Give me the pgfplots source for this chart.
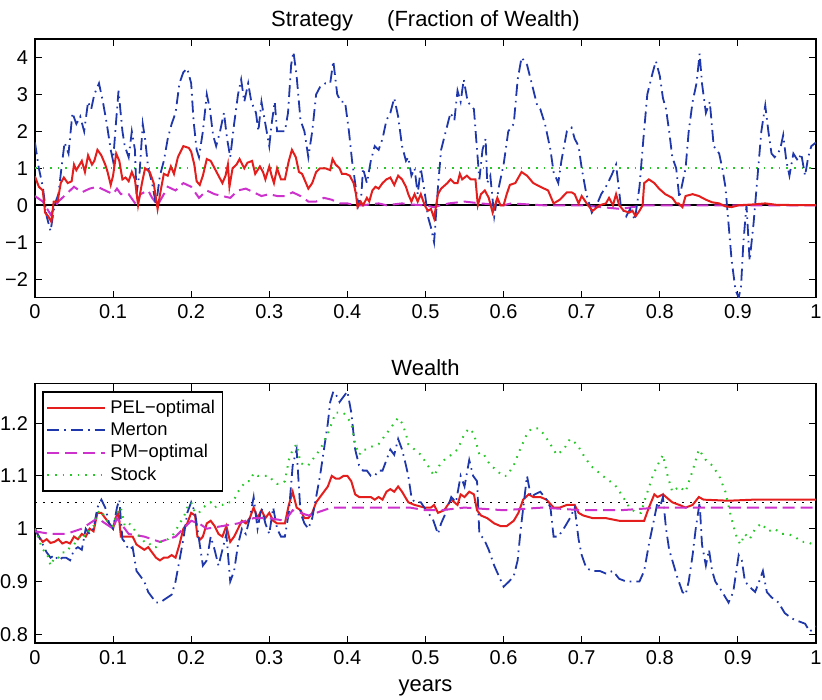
\documentclass[border=0pt]{standalone}
\usepackage{pgfplots}
\usepackage{pgfplotstable}
\pgfplotsset{compat=1.18}
\usepackage{fontspec}
\setmainfont{Liberation Sans}

\definecolor{pelred}{RGB}{228,30,28}
\definecolor{mertonblue}{RGB}{30,55,170}
\definecolor{pmmag}{RGB}{205,50,205}
\definecolor{stockgreen}{RGB}{40,200,40}

% ---------- strategy (fraction of wealth) ----------
\pgfplotstableread{
x y
0 0.78
0.005 0.5
0.01 0.4
0.013 -0.2
0.017 -0.3
0.021 -0.45
0.024 0.1
0.029 0.1
0.033 0.6
0.037 0.75
0.042 0.6
0.047 0.65
0.05 1.1
0.053 0.95
0.06 1.2
0.064 0.9
0.068 1.35
0.073 1.1
0.076 1.2
0.08 1.5
0.085 1.35
0.09 1.1
0.093 0.9
0.097 0.55
0.1 0.8
0.104 1.4
0.108 1.2
0.112 0.7
0.116 0.75
0.12 0.65
0.124 0.9
0.128 0.7
0.132 0.0
0.137 0.6
0.141 1.0
0.147 0.9
0.152 0.6
0.157 -0.1
0.161 0.4
0.165 0.85
0.17 0.8
0.174 1.05
0.178 0.85
0.183 1.3
0.19 1.6
0.197 1.55
0.2 1.45
0.204 1.1
0.207 0.65
0.211 0.55
0.215 0.8
0.22 1.25
0.225 1.2
0.23 1.0
0.235 0.8
0.24 0.6
0.244 0.8
0.247 1.1
0.249 0.5
0.253 1.0
0.258 1.1
0.262 1.25
0.268 1.0
0.272 1.15
0.278 1.2
0.282 0.85
0.288 1.05
0.292 0.9
0.295 0.7
0.3 1.05
0.303 0.8
0.306 0.6
0.31 1.0
0.315 0.7
0.32 0.7
0.325 1.2
0.329 1.5
0.334 1.3
0.338 0.9
0.342 0.85
0.347 0.6
0.35 0.45
0.355 0.6
0.36 0.9
0.365 1.0
0.372 1.0
0.378 0.95
0.381 1.25
0.385 1.1
0.39 1.0
0.393 0.85
0.398 0.85
0.403 0.8
0.408 0.6
0.411 0.3
0.413 -0.05
0.417 0.1
0.42 0.0
0.425 0.2
0.428 0.1
0.432 0.4
0.436 0.5
0.44 0.45
0.445 0.6
0.45 0.7
0.455 0.75
0.46 0.55
0.465 0.8
0.47 0.7
0.475 0.5
0.478 0.3
0.482 0.1
0.486 0.3
0.49 0.1
0.494 0.3
0.499 0.0
0.503 -0.15
0.507 -0.1
0.511 -0.35
0.516 0.3
0.52 0.45
0.528 0.6
0.532 0.7
0.537 0.6
0.541 0.6
0.544 0.85
0.547 0.7
0.553 0.8
0.558 0.7
0.564 0.7
0.567 0.0
0.571 0.3
0.576 0.4
0.581 0.2
0.586 -0.2
0.592 0.2
0.596 0.0
0.6 0.0
0.604 0.3
0.608 0.55
0.615 0.6
0.623 0.9
0.63 0.8
0.638 0.6
0.647 0.5
0.657 0.4
0.664 0.05
0.672 0.15
0.681 0.35
0.687 0.35
0.691 0.3
0.696 0.05
0.7 0.25
0.708 0.0
0.714 -0.15
0.723 0.0
0.731 0.05
0.735 0.2
0.74 0.0
0.744 0.3
0.748 0.0
0.754 -0.15
0.761 -0.2
0.765 -0.15
0.769 -0.3
0.774 -0.15
0.778 0.0
0.78 0.6
0.786 0.7
0.793 0.6
0.799 0.45
0.807 0.3
0.816 0.2
0.821 0.05
0.824 0.05
0.829 -0.05
0.833 0.25
0.842 0.3
0.85 0.25
0.859 0.15
0.867 0.08
0.876 0.05
0.884 -0.03
0.892 -0.05
0.901 0.0
0.918 0.02
0.935 0.05
0.95 0.01
1.0 0.0
}\pelstrat

\pgfplotstableread{
x y
0 1.7
0.005 1.0
0.01 0.5
0.015 -0.3
0.02 -0.7
0.025 0.0
0.03 0.3
0.035 1.2
0.038 1.7
0.043 1.4
0.048 2.5
0.053 2.2
0.058 2.4
0.063 2.0
0.068 2.8
0.072 2.6
0.076 3.0
0.082 3.3
0.087 2.8
0.092 2.2
0.097 1.5
0.1 1.2
0.104 2.3
0.107 3.1
0.112 2.0
0.115 1.6
0.12 1.3
0.124 2.0
0.128 1.5
0.13 0.3
0.134 0.9
0.138 2.2
0.141 1.8
0.145 1.0
0.15 0.6
0.155 0.0
0.16 0.8
0.165 1.2
0.17 1.8
0.175 2.2
0.18 2.5
0.185 3.3
0.19 3.6
0.195 3.7
0.2 3.3
0.203 2.3
0.207 1.5
0.21 1.3
0.215 2.0
0.22 3.0
0.224 2.6
0.228 1.9
0.232 1.6
0.237 2.0
0.242 2.5
0.246 1.8
0.25 1.3
0.255 2.2
0.26 3.0
0.264 3.4
0.268 2.8
0.273 3.3
0.277 2.8
0.283 2.5
0.286 2.0
0.29 2.8
0.295 2.2
0.3 1.6
0.303 2.2
0.307 2.8
0.31 2.0
0.315 2.0
0.32 2.0
0.324 2.5
0.328 3.8
0.331 4.15
0.335 3.5
0.34 2.3
0.345 2.0
0.35 1.3
0.355 2.0
0.36 3.0
0.365 3.2
0.372 3.3
0.378 3.3
0.382 3.9
0.387 3.0
0.392 2.8
0.397 2.8
0.402 2.0
0.406 1.2
0.41 0.6
0.414 0.0
0.418 0.3
0.42 1.0
0.425 0.6
0.43 1.2
0.435 1.6
0.44 1.5
0.445 1.8
0.45 2.3
0.455 2.5
0.46 2.9
0.465 2.4
0.47 1.6
0.475 1.2
0.478 1.3
0.482 0.8
0.486 1.0
0.49 0.3
0.494 1.0
0.5 0.2
0.503 -0.3
0.507 -0.6
0.511 -1.0
0.516 0.5
0.52 1.5
0.526 2.0
0.532 2.5
0.537 2.3
0.541 3.1
0.545 2.8
0.549 3.4
0.554 2.8
0.558 2.7
0.562 2.6
0.566 1.5
0.569 0.7
0.573 1.5
0.577 1.8
0.579 0.6
0.583 0.8
0.588 -0.3
0.594 0.5
0.6 1.1
0.606 2.0
0.613 2.2
0.618 3.4
0.623 4.0
0.63 3.8
0.636 3.3
0.643 2.7
0.647 2.6
0.653 2.2
0.66 1.5
0.664 0.9
0.67 0.6
0.674 1.2
0.681 2.0
0.687 2.1
0.691 1.8
0.696 1.6
0.7 1.0
0.706 0.3
0.713 -0.2
0.719 0.0
0.725 0.3
0.731 0.5
0.738 0.8
0.744 1.1
0.75 0.0
0.757 -0.3
0.762 -0.1
0.768 -0.4
0.774 0.5
0.779 1.8
0.784 3.0
0.791 3.6
0.795 3.9
0.8 3.5
0.804 2.9
0.808 2.6
0.812 2.0
0.816 1.3
0.821 1.0
0.825 0.2
0.829 0.6
0.833 1.0
0.837 2.0
0.842 2.8
0.847 3.3
0.851 4.1
0.854 3.3
0.859 2.5
0.864 2.8
0.869 1.6
0.876 1.4
0.88 1.0
0.884 0.5
0.888 -0.5
0.892 -1.5
0.897 -2.3
0.901 -2.5
0.904 -2.2
0.907 -1.0
0.911 0.0
0.915 -1.5
0.92 -0.5
0.926 1.0
0.93 2.0
0.935 2.7
0.939 2.0
0.943 1.4
0.947 1.3
0.954 1.5
0.958 1.9
0.962 1.2
0.966 0.8
0.971 1.4
0.977 1.2
0.981 1.4
0.986 0.8
0.99 1.3
0.994 1.6
1.0 1.7
}\mertonstrat

\pgfplotstableread{
x y
0 0.25
0.01 0.1
0.02 -0.25
0.03 0.1
0.045 0.4
0.05 0.5
0.06 0.35
0.07 0.45
0.08 0.5
0.09 0.4
0.1 0.3
0.105 0.45
0.11 0.3
0.12 0.3
0.13 0.0
0.135 0.3
0.145 0.4
0.15 0.2
0.157 0.0
0.165 0.3
0.17 0.5
0.18 0.4
0.19 0.6
0.2 0.5
0.21 0.2
0.22 0.4
0.23 0.3
0.24 0.25
0.25 0.2
0.26 0.4
0.27 0.45
0.28 0.35
0.29 0.25
0.3 0.3
0.31 0.25
0.32 0.25
0.33 0.35
0.34 0.25
0.35 0.1
0.36 0.1
0.37 0.2
0.38 0.15
0.39 0.05
0.4 0.05
0.41 0.0
0.42 0.0
0.44 0.05
0.45 0.0
0.47 0.05
0.48 0.02
0.5 0.0
0.51 -0.05
0.52 0.0
0.53 0.05
0.55 0.1
0.57 0.05
0.6 0.0
0.61 0.05
0.65 0.0
0.7 0.0
0.75 -0.1
0.78 0.0
1.0 0.0
}\pmstrat

% ---------- wealth ----------
\pgfplotstableread{
x y
0 1.0
0.005 0.985
0.01 0.975
0.015 0.98
0.02 0.973
0.025 0.975
0.03 0.98
0.035 0.972
0.04 0.975
0.045 0.972
0.05 0.985
0.055 0.98
0.06 0.99
0.065 0.985
0.07 1.0
0.075 0.995
0.08 1.03
0.085 1.03
0.09 1.02
0.095 1.01
0.1 1.0
0.103 1.02
0.107 1.03
0.11 0.985
0.115 0.985
0.12 0.985
0.125 0.985
0.13 0.97
0.135 0.965
0.14 0.96
0.145 0.965
0.15 0.955
0.155 0.945
0.16 0.94
0.165 0.945
0.17 0.945
0.175 0.95
0.18 0.945
0.185 0.97
0.19 1.0
0.195 1.01
0.2 1.03
0.205 1.025
0.208 0.985
0.212 0.98
0.215 0.985
0.22 1.01
0.225 1.015
0.23 1.005
0.235 0.99
0.24 0.985
0.245 1.005
0.25 0.975
0.255 0.985
0.26 1.0
0.265 1.015
0.27 1.01
0.275 1.02
0.28 1.04
0.285 1.02
0.29 1.035
0.295 1.02
0.3 1.03
0.305 1.015
0.31 1.01
0.315 1.01
0.32 1.01
0.325 1.045
0.33 1.07
0.335 1.04
0.34 1.035
0.345 1.02
0.35 1.02
0.355 1.03
0.36 1.05
0.37 1.07
0.375 1.08
0.38 1.1
0.385 1.095
0.39 1.095
0.395 1.1
0.4 1.1
0.405 1.09
0.41 1.065
0.415 1.06
0.43 1.06
0.435 1.055
0.44 1.06
0.445 1.055
0.45 1.07
0.455 1.075
0.46 1.07
0.465 1.08
0.47 1.07
0.478 1.05
0.486 1.045
0.499 1.04
0.507 1.04
0.511 1.045
0.516 1.03
0.524 1.035
0.533 1.055
0.541 1.045
0.545 1.065
0.55 1.06
0.556 1.07
0.562 1.065
0.566 1.035
0.571 1.025
0.579 1.02
0.588 1.01
0.596 1.005
0.604 1.005
0.613 1.015
0.619 1.03
0.625 1.055
0.632 1.065
0.638 1.06
0.647 1.06
0.655 1.055
0.664 1.04
0.672 1.04
0.681 1.045
0.691 1.045
0.696 1.03
0.702 1.025
0.714 1.02
0.731 1.02
0.748 1.015
0.774 1.015
0.78 1.015
0.786 1.04
0.793 1.065
0.797 1.06
0.804 1.065
0.808 1.06
0.816 1.05
0.825 1.045
0.833 1.04
0.842 1.045
0.85 1.06
0.856 1.055
0.888 1.053
0.92 1.055
1.0 1.055
}\pelwealth

\pgfplotstableread{
x y
0 1.0
0.005 0.985
0.01 0.97
0.015 0.955
0.02 0.945
0.025 0.95
0.03 0.94
0.035 0.945
0.04 0.945
0.045 0.94
0.05 0.96
0.055 0.965
0.06 0.96
0.065 1.0
0.07 0.99
0.075 1.0
0.08 1.04
0.085 1.055
0.09 1.04
0.095 1.01
0.1 1.0
0.105 1.04
0.108 1.055
0.112 0.98
0.115 0.975
0.12 0.96
0.125 0.965
0.13 0.92
0.135 0.91
0.14 0.9
0.145 0.88
0.15 0.87
0.155 0.86
0.16 0.86
0.165 0.865
0.17 0.87
0.175 0.875
0.18 0.9
0.185 0.94
0.19 0.98
0.195 1.03
0.2 1.05
0.205 1.03
0.21 0.98
0.215 0.93
0.22 0.94
0.225 0.985
0.23 0.96
0.235 0.93
0.24 0.96
0.245 0.99
0.25 0.9
0.255 0.92
0.26 0.97
0.265 1.0
0.27 0.99
0.275 1.02
0.28 1.06
0.285 1.0
0.29 1.04
0.295 1.01
0.3 0.99
0.305 1.04
0.31 1.0
0.315 0.985
0.32 0.985
0.325 1.03
0.33 1.12
0.335 1.15
0.34 1.03
0.345 1.01
0.35 1.0
0.355 1.02
0.36 1.06
0.365 1.1
0.37 1.15
0.375 1.2
0.378 1.24
0.382 1.26
0.387 1.25
0.39 1.24
0.395 1.25
0.4 1.26
0.405 1.22
0.41 1.15
0.415 1.12
0.42 1.11
0.425 1.11
0.43 1.1
0.435 1.1
0.44 1.11
0.445 1.11
0.45 1.13
0.455 1.15
0.46 1.14
0.465 1.17
0.47 1.15
0.475 1.12
0.478 1.1
0.482 1.06
0.486 1.05
0.494 1.05
0.503 1.03
0.509 1.02
0.516 0.99
0.52 1.01
0.526 1.03
0.533 1.06
0.539 1.05
0.545 1.1
0.55 1.08
0.556 1.13
0.561 1.1
0.566 1.09
0.569 0.99
0.575 0.98
0.581 0.96
0.588 0.93
0.594 0.91
0.6 0.89
0.607 0.9
0.613 0.91
0.618 0.94
0.622 1.0
0.626 1.05
0.63 1.1
0.635 1.06
0.64 1.065
0.647 1.07
0.655 1.055
0.66 1.04
0.664 0.985
0.67 0.985
0.677 1.0
0.685 1.02
0.691 1.04
0.696 0.98
0.7 0.95
0.706 0.925
0.714 0.92
0.723 0.92
0.731 0.915
0.74 0.92
0.748 0.905
0.757 0.9
0.774 0.9
0.78 0.92
0.786 0.97
0.793 1.02
0.797 1.05
0.8 1.04
0.804 1.06
0.808 1.0
0.812 0.96
0.816 0.94
0.822 0.91
0.829 0.88
0.833 0.875
0.837 0.9
0.842 0.95
0.846 1.0
0.851 1.05
0.854 0.97
0.859 0.93
0.863 0.96
0.867 0.92
0.871 0.9
0.88 0.88
0.888 0.86
0.894 0.88
0.901 0.95
0.905 0.94
0.909 0.9
0.915 0.89
0.922 0.88
0.926 0.895
0.932 0.92
0.937 0.88
0.943 0.87
0.952 0.86
0.96 0.84
0.969 0.83
0.977 0.825
0.986 0.82
0.992 0.805
1.0 0.815
}\mertonwealth

\pgfplotstableread{
x y
0 0.995
0.02 0.99
0.04 0.99
0.06 1.0
0.08 1.02
0.1 1.0
0.105 1.02
0.12 0.99
0.14 0.985
0.16 0.975
0.18 0.985
0.19 1.0
0.2 1.015
0.21 1.01
0.22 1.0
0.24 1.005
0.26 1.01
0.28 1.02
0.3 1.02
0.32 1.015
0.33 1.035
0.35 1.025
0.36 1.03
0.37 1.035
0.38 1.04
0.45 1.04
0.48 1.04
0.5 1.035
0.52 1.035
0.55 1.04
0.6 1.035
0.65 1.04
0.7 1.035
0.75 1.035
0.8 1.04
1.0 1.04
}\pmwealth

\pgfplotstableread{
x y
0 1.0
0.005 0.98
0.01 0.96
0.015 0.955
0.02 0.93
0.025 0.945
0.03 0.945
0.035 0.955
0.04 0.955
0.045 0.965
0.05 0.97
0.055 0.98
0.06 0.99
0.065 0.985
0.07 1.0
0.075 1.005
0.08 1.03
0.085 1.035
0.09 1.02
0.095 1.01
0.1 1.005
0.105 1.03
0.11 1.04
0.115 1.005
0.12 1.01
0.125 1.005
0.13 0.99
0.135 0.985
0.14 0.975
0.145 0.975
0.15 0.965
0.155 0.965
0.16 0.975
0.165 0.975
0.17 0.98
0.175 0.985
0.18 0.995
0.185 1.01
0.19 1.02
0.195 1.04
0.2 1.05
0.205 1.03
0.21 1.03
0.215 1.04
0.22 1.045
0.225 1.05
0.23 1.04
0.235 1.045
0.24 1.045
0.245 1.05
0.25 1.05
0.255 1.055
0.26 1.07
0.265 1.08
0.27 1.09
0.275 1.09
0.28 1.105
0.285 1.1
0.3 1.1
0.305 1.09
0.31 1.085
0.315 1.085
0.32 1.09
0.325 1.13
0.33 1.15
0.335 1.16
0.34 1.125
0.345 1.12
0.35 1.12
0.355 1.13
0.36 1.14
0.365 1.15
0.37 1.165
0.375 1.18
0.38 1.2
0.385 1.22
0.395 1.22
0.4 1.21
0.405 1.2
0.41 1.16
0.415 1.14
0.42 1.15
0.425 1.15
0.43 1.155
0.44 1.16
0.445 1.17
0.45 1.18
0.455 1.19
0.46 1.2
0.465 1.21
0.47 1.2
0.475 1.18
0.478 1.16
0.486 1.15
0.494 1.14
0.503 1.12
0.511 1.1
0.518 1.12
0.524 1.13
0.533 1.14
0.541 1.15
0.55 1.18
0.556 1.19
0.562 1.18
0.569 1.14
0.575 1.14
0.583 1.12
0.592 1.11
0.598 1.1
0.604 1.1
0.613 1.12
0.621 1.15
0.63 1.18
0.636 1.19
0.645 1.19
0.651 1.18
0.66 1.16
0.668 1.14
0.677 1.15
0.685 1.17
0.694 1.16
0.702 1.14
0.711 1.12
0.719 1.11
0.727 1.1
0.736 1.09
0.744 1.08
0.753 1.06
0.761 1.04
0.77 1.03
0.776 1.03
0.782 1.06
0.791 1.1
0.797 1.12
0.804 1.14
0.81 1.1
0.816 1.07
0.825 1.08
0.833 1.07
0.842 1.11
0.85 1.15
0.859 1.13
0.867 1.12
0.876 1.1
0.884 1.07
0.89 1.03
0.897 0.99
0.903 0.97
0.909 0.99
0.915 0.98
0.922 1.0
0.93 1.01
0.939 0.995
0.947 1.0
0.956 0.99
0.964 0.99
0.973 0.985
0.981 0.975
0.99 0.975
1.0 0.965
}\stockwealth

\pgfplotsset{
  every axis/.append style={
    scale only axis,
    width=391pt,
    height=129.5pt,
    xmin=0, xmax=1,
    xtick={0,0.1,...,1},
    xticklabels={0,0.1,0.2,0.3,0.4,0.5,0.6,0.7,0.8,0.9,1},
    tick align=inside,
    major tick length=3.5pt,
    axis line style={line width=0.8pt},
    every tick/.style={black, line width=0.5pt},
    tick label style={font=\fontsize{10}{12}\selectfont},
    title style={font=\fontsize{11}{13}\selectfont, yshift=-5.5pt},
    label style={font=\fontsize{11}{13}\selectfont},
  },
  pel/.style={draw=pelred, line width=1pt},
  mert/.style={draw=mertonblue, line width=0.9pt, dash pattern=on 6pt off 2.5pt on 0.8pt off 2.5pt},
  pm/.style={draw=pmmag, line width=1pt, dash pattern=on 6pt off 3pt},
  stk/.style={draw=stockgreen, line width=1pt, dash pattern=on 0.8pt off 3pt},
}

\begin{document}
\begin{tikzpicture}
\begin{axis}[
  name=top,
  title={Strategy\quad\ \ (Fraction of Wealth)},
  ymin=-2.5, ymax=4.5,
  ytick={-2,-1,0,1,2,3,4},
  yticklabels={−2,−1,0,1,2,3,4},
]
\addplot[black, line width=0.8pt] coordinates {(0,0) (1,0)};
\addplot[stk] coordinates {(0,1) (1,1)};
\addplot[pm] table[x=x,y=y] {\pmstrat};
\addplot[mert] table[x=x,y=y] {\mertonstrat};
\addplot[pel] table[x=x,y=y] {\pelstrat};
\end{axis}

\begin{axis}[
  name=bot,
  at={(top.south west)}, anchor=north west, yshift=-43pt,
  height=130pt,
  title={Wealth},
  xlabel={years},
  xlabel style={yshift=-1pt},
  ymin=0.783, ymax=1.275,
  ytick={0.8,0.9,1,1.1,1.2},
  yticklabels={0.8,0.9,1,1.1,1.2},
  legend cell align=left,
  legend style={at={(0.009,0.97)}, anchor=north west,
    draw=black, line width=0.8pt, inner sep=1.8pt,
    font=\fontsize{9.2}{11}\selectfont,
    row sep=-0.8pt},
  legend image code/.code={\draw[#1] (0pt,0pt) -- (29pt,0pt);},
]
\addplot[black, line width=0.6pt, dash pattern=on 0.8pt off 3.2pt, forget plot] coordinates {(0,1.05) (1,1.05)};
\addplot[pel] table[x=x,y=y] {\pelwealth};
\addlegendentry{PEL−optimal}
\addplot[mert] table[x=x,y=y] {\mertonwealth};
\addlegendentry{Merton}
\addplot[pm] table[x=x,y=y] {\pmwealth};
\addlegendentry{PM−optimal}
\addplot[stk] table[x=x,y=y] {\stockwealth};
\addlegendentry{Stock}
\end{axis}
\pgfresetboundingbox
\path ([xshift=-17.5pt,yshift=19.5pt]top.north west) rectangle ([xshift=3pt,yshift=-28pt]bot.south east);
\end{tikzpicture}
\end{document}
